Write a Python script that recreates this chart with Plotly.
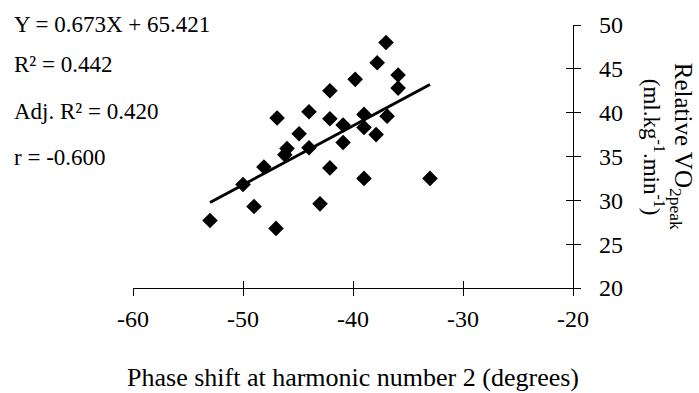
import plotly.graph_objects as go

# Phase shift at harmonic 2 (degrees) vs relative VO2peak (ml/kg/min)
phase_shift = [-37.0, -37.8, -35.9, -35.9, -39.8, -42.1, -46.9, -44.0, -42.1, -40.9,
               -39.0, -36.9, -39.0, -37.9, -44.9, -46.0, -46.2, -44.0, -40.9, -48.1,
               -50.0, -42.1, -39.0, -33.0, -49.0, -43.0, -53.0, -47.0]
vo2peak = [48.0, 45.7, 44.3, 42.8, 43.8, 42.5, 39.4, 40.1, 39.3, 38.6,
           39.8, 39.6, 38.3, 37.5, 37.6, 35.9, 35.2, 36.0, 36.6, 33.8,
           31.8, 33.7, 32.5, 32.5, 29.3, 29.6, 27.7, 26.8]

slope = 0.673
intercept = 65.421
stats_lines = ["Y = 0.673X + 65.421", "R² = 0.442", "Adj. R² = 0.420", "r = -0.600"]

x_ticks = [-60, -50, -40, -30, -20]
x_ticktext = ["-60", "-50", "-40", "-30", "-20"]
y_ticks = [20, 25, 30, 35, 40, 45, 50]

x_range = [-60, -20]
y_range = [20, 50]

FONT = "Liberation Serif, Times New Roman, serif"

fit_x = [min(phase_shift), max(phase_shift)]
fit_y = [slope * v + intercept for v in fit_x]

fig = go.Figure()
fig.add_trace(go.Scatter(
    x=phase_shift, y=vo2peak, mode="markers",
    marker=dict(symbol="diamond", size=12, color="black"),
    showlegend=False, cliponaxis=False))
fig.add_trace(go.Scatter(
    x=fit_x, y=fit_y, mode="lines",
    line=dict(color="black", width=3), showlegend=False))
# invisible trace on the overlay axes that carry the inward half of each tick
fig.add_trace(go.Scatter(x=[-40], y=[35], xaxis="x2", yaxis="y2",
                         mode="markers", marker=dict(opacity=0),
                         showlegend=False, hoverinfo="skip"))

axis_common = dict(showgrid=False, zeroline=False, ticklen=7, tickwidth=1.2,
                   tickcolor="black", automargin=False)

fig.update_layout(
    width=699, height=393,
    margin=dict(l=133, r=126, t=25, b=105),
    paper_bgcolor="white", plot_bgcolor="white",
    font=dict(family=FONT, size=23, color="black"),
    xaxis=dict(range=x_range, tickvals=x_ticks, ticktext=x_ticktext, ticks="outside",
               showline=True, linecolor="black", linewidth=1.3,
               ticklabelstandoff=2, tickfont=dict(size=24),
               title=dict(text="Phase shift at harmonic number 2 (degrees)",
                          font=dict(size=26), standoff=36),
               **axis_common),
    yaxis=dict(range=y_range, tickvals=y_ticks, ticks="outside", side="right",
               showline=True, linecolor="black", linewidth=1.3,
               ticklabelstandoff=13, tickfont=dict(size=24), **axis_common),
    xaxis2=dict(overlaying="x", anchor="y2", side="bottom", range=x_range,
                tickvals=x_ticks, ticks="inside", showticklabels=False,
                showline=False, **axis_common),
    yaxis2=dict(overlaying="y", anchor="x2", side="right", range=y_range,
                tickvals=y_ticks, ticks="inside", showticklabels=False,
                showline=False, **axis_common),
)

# regression statistics, stacked at the upper left
stat_y = [1.003, 0.848, 0.672, 0.498]
for txt, yy in zip(stats_lines, stat_y):
    fig.add_annotation(text=txt, xref="paper", yref="paper", x=-0.275, y=yy,
                       xanchor="left", yanchor="middle", showarrow=False,
                       font=dict(size=23))

# y-axis title, two rotated lines on the right
fig.add_annotation(text="Relative VO<sub>2peak</sub>", xref="paper", yref="paper",
                   x=1.246, y=0.54, textangle=90, showarrow=False,
                   xanchor="center", yanchor="middle", font=dict(size=25))
fig.add_annotation(text="(ml.kg<sup>-1</sup>.min<sup>-1</sup>)", xref="paper", yref="paper",
                   x=1.183, y=0.535, textangle=90, showarrow=False,
                   xanchor="center", yanchor="middle", font=dict(size=23))

fig.write_html("out.html")
